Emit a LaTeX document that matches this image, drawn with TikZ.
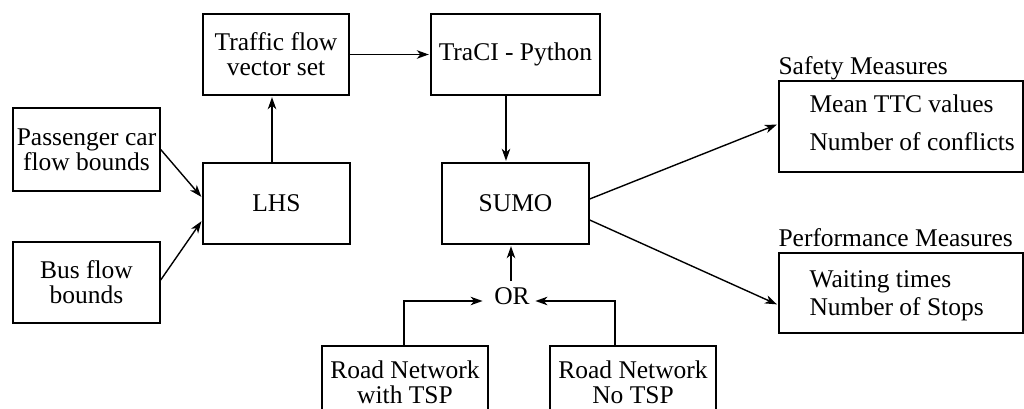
\documentclass[tikz,border=0pt]{standalone}
\usepackage{fontspec}
\setmainfont{Liberation Serif}
\usetikzlibrary{arrows.meta,calc}
\begin{document}
\begin{tikzpicture}[x=1pt,y=-1pt,
  txt/.style={font=\fontsize{25.5}{25}\selectfont},
  box/.style={txt, draw, line width=1.4pt, inner sep=0pt, align=center},
  arr/.style={line width=1.4pt, -{Stealth[length=12pt,width=8.5pt,inset=3.5pt]}, shorten >=1.5pt},
  item/.style={txt, anchor=base west, inner sep=0pt}
]
\useasboundingbox (0,0) rectangle (1024,409);
\clip (0,0) rectangle (1024,409);

% input boxes and sampling
\node[box, minimum width=147pt, minimum height=83pt] (pass) at (86.5,149.5) {Passenger car\\flow bounds};
\node[box, minimum width=147pt, minimum height=81pt] (bus) at (86.5,282.5) {Bus flow\\bounds};
\node[box, minimum width=147pt, minimum height=81pt] (lhs) at (276.5,203.5) {LHS};
\node[box, minimum width=146pt, minimum height=81pt] (traffic) at (276,54.5) {Traffic flow\\vector set};

% simulation
\node[box, minimum width=169pt, minimum height=81pt] (traci) at (515.5,54.5) {TraCI - Python};
\node[box, minimum width=147pt, minimum height=81pt] (sumo) at (515.5,203.5) {SUMO};
\node[txt, inner xsep=10pt, inner ysep=6pt] (or) at (512,296) {OR};
\node[box, minimum width=166pt, minimum height=72pt] (roadA) at (405,382) {Road Network\\with TSP};
\node[box, minimum width=166pt, minimum height=72pt] (roadB) at (633,382) {Road Network\\No TSP};

% output measures
\node[box, minimum width=244pt, minimum height=91pt] (safety) at (901,126.5) {};
\node[box, minimum width=244pt, minimum height=80pt] (perf) at (901,293) {};
\node[item] (safetylbl) at ($(safety.north west)+(0,-6)$) {Safety Measures};
\node[item] (perflbl) at ($(perf.north west)+(0,-6)$) {Performance Measures};
\node[item] (ttc) at ($(safety.north west)+(31,32)$) {Mean TTC values};
\node[item] (conf) at ($(safety.north west)+(31,70)$) {Number of conflicts};
\node[item] (wait) at ($(perf.north west)+(31,35)$) {Waiting times};
\node[item] (stops) at ($(perf.north west)+(31,63)$) {Number of Stops};

% connectors
\draw[arr] (pass.east) -- ($(lhs.west)+(0,-5.5)$);
\draw[arr] ($(bus.east)+(0,-2.5)$) -- ($(lhs.west)+(0,16.5)$);
\draw[arr] ($(lhs.north)+(-4.5,0)$) -- ($(traffic.south)+(-4,0)$);
\draw[arr] (traffic.east) -- (traci.west);
\draw[arr] ($(traci.south)+(-9.5,0)$) -- ($(sumo.north)+(-9.5,0)$);
\draw[arr] ($(sumo.east)+(0,-4.5)$) -- ($(safety.west)+(0,-2.5)$);
\draw[arr] ($(sumo.east)+(0,16.5)$) -- ($(perf.west)+(0,12)$);
\draw[arr] ($(or.north)+(-1,0)$) -- ($(sumo.south)+(-4.5,0)$);
\draw[arr] ($(roadA.north)+(-1,0)$) |- ($(or.west)+(0,5)$);
\draw[arr] ($(roadB.north)+(-18,0)$) |- ($(or.east)+(-6,5)$);
\end{tikzpicture}
\end{document}
